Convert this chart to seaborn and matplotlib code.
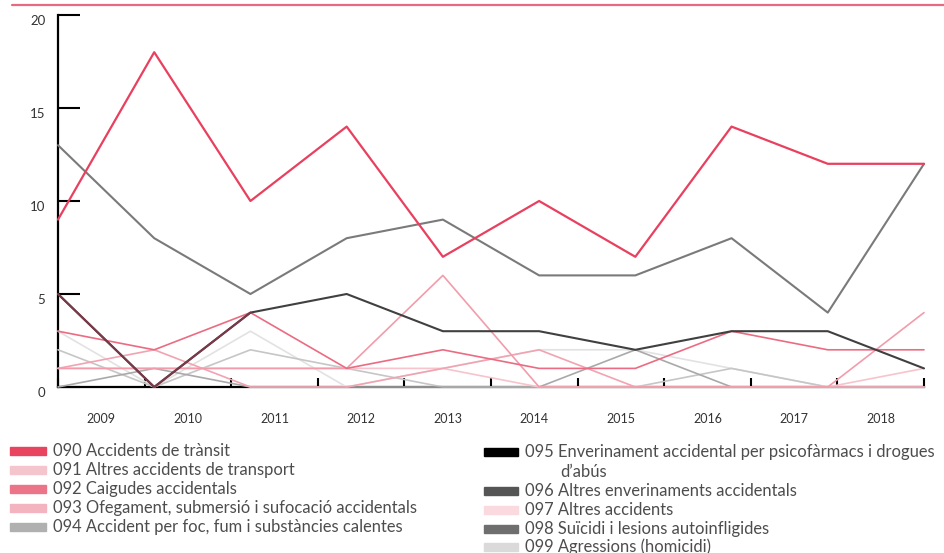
import numpy as np
import pandas as pd
import matplotlib
matplotlib.use("Agg")
import matplotlib.pyplot as plt
from matplotlib.patches import Rectangle
from matplotlib.lines import Line2D
import seaborn as sns

# values
years = [2009, 2010, 2011, 2012, 2013, 2014, 2015, 2016, 2017, 2018]
s090 = [9, 18, 10, 14, 7, 10, 7, 14, 12, 12]
s091 = [1, 2, 0, 0, 1, 2, 0, 0, 0, 0]
s092 = [3, 2, 4, 1, 2, 1, 1, 3, 2, 2]
s093 = [1, 1, 1, 1, 6, 0, 0, 0, 0, 4]
s094 = [0, 1, 0, 0, 0, 0, 2, 0, 0, 0]
s095 = [2, 0, 2, 1, 0, 0, 0, 1, 0, 0]
s096 = [5, 0, 4, 5, 3, 3, 2, 3, 3, 1]
s097 = [1, 1, 1, 1, 1, 0, 0, 0, 0, 1]
s098 = [13, 8, 5, 8, 9, 6, 6, 8, 4, 12]
s099 = [3, 0, 3, 0, 1, 2, 2, 1, 0, 0]

codes = ["090", "091", "092", "093", "094", "095", "096", "097", "098", "099"]
labels = [
    "090 Accidents de trànsit",
    "091 Altres accidents de transport",
    "092 Caigudes accidentals",
    "093 Ofegament, submersió i sufocació accidentals",
    "094 Accident per foc, fum i substàncies calentes",
    "095 Enverinament accidental per psicofàrmacs i drogues",
    "096 Altres enverinaments accidentals",
    "097 Altres accidents",
    "098 Suïcidi i lesions autoinfligides",
    "099 Agressions (homicidi)",
]
series = dict(zip(codes, [s090, s091, s092, s093, s094, s095, s096, s097, s098, s099]))

legend_colors = ["#e8435f", "#f5c5ce", "#ec7489", "#f3b3bf", "#b0b0b0",
                 "#000000", "#555555", "#fad9df", "#6e6e6e", "#dadada"]
line_colors = {"090": "#e8405e", "091": "#f2a3b1", "092": "#eb6c82", "093": "#f29cab",
               "094": "#a9a9a9", "095": "#c6c6c6", "096": "#404040", "097": "#f7c3cc",
               "098": "#7a7a7a", "099": "#e2e2e2"}
line_widths = {"090": 1.6, "098": 1.5, "096": 1.5}
draw_order = ["099", "095", "094", "097", "091", "093", "092", "096", "098", "090"]

df = pd.DataFrame([(y, v, c) for c in codes for y, v in zip(years, series[c])],
                  columns=["year", "value", "serie"])

sns.set_style("white")
plt.rcParams["font.family"] = ["Lato", "DejaVu Sans"]

W, H = 945, 553
fig = plt.figure(figsize=(W / 100, H / 100), dpi=100)
ax = fig.add_axes([58 / W, 1 - 387 / H, (924 - 58) / W, (387 - 15) / H])

for c in draw_order:
    sns.lineplot(data=df[df.serie == c], x="year", y="value", color=line_colors[c],
                 linewidth=line_widths.get(c, 1.2), ax=ax, clip_on=False, zorder=3)
# first stretch of 096 shows up maroon in the original
sns.lineplot(x=years[:3], y=s096[:3], color="#7a3848", linewidth=1.5, ax=ax,
             clip_on=False, zorder=3)

ax.set_xlim(years[0], years[-1])
ax.set_ylim(0, 20)
ax.set_xlabel("")
ax.set_ylabel("")

for side in ["top", "right"]:
    ax.spines[side].set_visible(False)
for side in ["left", "bottom"]:
    ax.spines[side].set_color("black")
    ax.spines[side].set_linewidth(1.6)

ax.set_yticks([0, 5, 10, 15, 20])
ax.tick_params(axis="y", left=True, direction="in", length=16, width=1.5, color="black",
               labelsize=9.5, labelcolor="#333333", pad=9)
for lab in ax.get_yticklabels():
    lab.set_va("top")

bounds = np.linspace(years[0], years[-1], len(years) + 1)
centers = (bounds[:-1] + bounds[1:]) / 2
ax.set_xticks(centers)
ax.set_xticklabels([str(y) for y in years])
ax.set_xticks(bounds, minor=True)
ax.tick_params(axis="x", which="major", bottom=True, length=0, labelsize=9,
               labelcolor="#333333", pad=19)
ax.tick_params(axis="x", which="minor", bottom=True, direction="in", length=6.5,
               width=1.5, color="black")
ax.grid(False)

# pink rule along the top
fig.add_artist(Line2D([12 / W, 1], [1 - 5 / H, 1 - 5 / H], color="#e86a80", linewidth=1.6))

# hand-placed legend in two columns
left_rows = [451, 470, 489, 508, 527]
right_rows = [452, 491, 510, 529, 547]
fs = 11.9
for i in range(5):
    y = left_rows[i]
    fig.add_artist(Rectangle((10 / W, 1 - (y + 4) / H), 36 / W, 8 / H,
                             color=legend_colors[i], transform=fig.transFigure))
    fig.text(53 / W, 1 - y / H, labels[i], fontsize=fs, color="#4d4d4d", va="center")
for i in range(5):
    y = right_rows[i]
    fig.add_artist(Rectangle((484 / W, 1 - (y + 4) / H), 34 / W, 8 / H,
                             color=legend_colors[5 + i], transform=fig.transFigure))
    fig.text(525 / W, 1 - y / H, labels[5 + i], fontsize=fs, color="#4d4d4d", va="center")
fig.text(560 / W, 1 - 472 / H, "d’abús", fontsize=fs, color="#4d4d4d", va="center")

fig.savefig("out.png", dpi=100)
